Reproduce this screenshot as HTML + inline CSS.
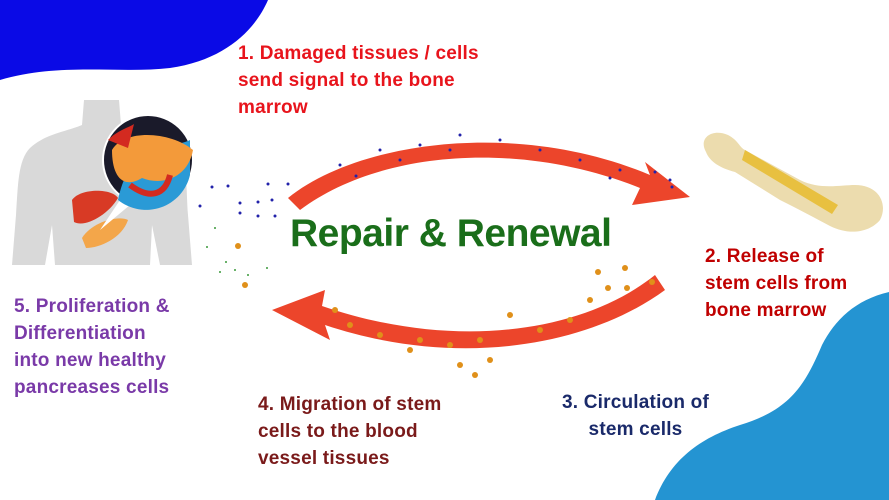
<!DOCTYPE html>
<html><head><meta charset="utf-8"><style>
body{margin:0;width:889px;height:500px;overflow:hidden;background:#fff;font-family:"Liberation Sans",sans-serif}
.t{position:absolute;font-weight:bold;font-size:19px;line-height:27px;letter-spacing:0.2px}
</style></head><body>
<svg width="889" height="500" style="position:absolute;left:0;top:0">
<path d="M0 0 L268 0 C255 30 225 60 170 68 C120 74 60 62 0 80 Z" fill="#0a0ae6"/>
<path d="M889 292 C855 300 835 320 822 345 C805 385 790 410 740 425 C700 438 670 460 655 500 L889 500 Z" fill="#2494d2"/>
<path d="M84 100 L119 100 L121 125 C140 132 165 134 178 150 C188 165 186 190 188 215 L192 265 L160 265 L152 225 L150 265 L55 265 L52 225 L45 265 L12 265 L16 215 C18 185 18 160 30 148 C45 134 65 132 82 125 Z" fill="#d9d9d9"/>
<path d="M72 200 C80 188 112 188 118 198 C108 215 85 228 74 222 Z" fill="#d83a25"/>
<path d="M82 238 C92 222 118 215 128 220 C122 238 100 248 86 248 Z" fill="#f3a64a"/>
<path d="M100 230 L120 200 L130 205 Z" fill="#fff"/>
<circle cx="148" cy="160" r="45" fill="#1a1a2a" stroke="#fff" stroke-width="2"/>
<path d="M118 200 A45 45 0 0 0 190 175 L190 140 C170 150 130 140 118 200 Z" fill="#2a9ad6"/>
<path d="M112 150 C125 128 172 132 193 150 C188 178 162 186 142 178 C122 190 112 175 112 150Z" fill="#f39a3a"/>
<path d="M130 185 C150 200 165 195 170 175" stroke="#d32a20" stroke-width="6" fill="none"/>
<path d="M108 140 C118 130 128 128 134 124 L128 148 Z" fill="#d32a20"/>
<path d="M706 152 C698 138 712 128 728 135 C738 140 740 148 745 150 L800 180 C820 190 840 185 855 185 C880 185 888 205 880 220 C870 232 850 236 830 226 C815 218 800 210 780 200 L735 172 C720 168 710 162 706 152 Z" fill="#ecdcae"/>
<path d="M745 150 L838 205 L832 214 L742 160 Z" fill="#e8c040"/>
<path d="M288 198 C360 140 520 120 650 175 L645 162 L690 197 L632 205 L640 188 C520 140 380 150 300 210 Z" fill="#ec452b"/>
<path d="M665 290 C590 345 460 370 325 325 L330 340 L272 310 L325 290 L322 306 C450 350 580 335 655 275 Z" fill="#ec452b"/>
<g fill="#2222aa">
<circle cx="212" cy="187" r="1.5"/><circle cx="228" cy="186" r="1.5"/><circle cx="240" cy="203" r="1.5"/><circle cx="258" cy="202" r="1.5"/><circle cx="272" cy="200" r="1.5"/><circle cx="268" cy="184" r="1.5"/><circle cx="288" cy="184" r="1.5"/><circle cx="200" cy="206" r="1.5"/><circle cx="258" cy="216" r="1.5"/><circle cx="275" cy="216" r="1.5"/><circle cx="240" cy="213" r="1.5"/>
<circle cx="340" cy="165" r="1.5"/><circle cx="380" cy="150" r="1.5"/><circle cx="420" cy="145" r="1.5"/><circle cx="460" cy="135" r="1.5"/><circle cx="500" cy="140" r="1.5"/><circle cx="540" cy="150" r="1.5"/><circle cx="580" cy="160" r="1.5"/><circle cx="620" cy="170" r="1.5"/><circle cx="655" cy="172" r="1.5"/><circle cx="670" cy="180" r="1.5"/><circle cx="672" cy="187" r="1.5"/><circle cx="356" cy="176" r="1.5"/><circle cx="400" cy="160" r="1.5"/><circle cx="450" cy="150" r="1.5"/><circle cx="610" cy="178" r="1.5"/>
</g>
<g fill="#e0901a">
<circle cx="238" cy="246" r="3"/><circle cx="245" cy="285" r="3"/><circle cx="598" cy="272" r="3"/><circle cx="625" cy="268" r="3"/><circle cx="608" cy="288" r="3"/><circle cx="627" cy="288" r="3"/><circle cx="652" cy="282" r="3"/><circle cx="590" cy="300" r="3"/><circle cx="570" cy="320" r="3"/><circle cx="540" cy="330" r="3"/><circle cx="510" cy="315" r="3"/><circle cx="480" cy="340" r="3"/><circle cx="450" cy="345" r="3"/><circle cx="420" cy="340" r="3"/><circle cx="380" cy="335" r="3"/><circle cx="350" cy="325" r="3"/><circle cx="460" cy="365" r="3"/><circle cx="475" cy="375" r="3"/><circle cx="490" cy="360" r="3"/><circle cx="410" cy="350" r="3"/><circle cx="335" cy="310" r="3"/>
</g>
<g fill="#3a9a3a"><circle cx="207" cy="247" r="1"/><circle cx="226" cy="262" r="1"/><circle cx="235" cy="270" r="1"/><circle cx="220" cy="272" r="1"/><circle cx="248" cy="275" r="1"/><circle cx="267" cy="268" r="1"/><circle cx="215" cy="228" r="1"/></g>
</svg>
<div style="position:absolute;left:290px;top:212px;font-size:39px;color:#1a6e1a;font-weight:bold;letter-spacing:-0.5px;white-space:nowrap">Repair &amp; Renewal</div>
<div class="t" style="left:238px;top:40px;color:#e8141c">1. Damaged tissues / cells<br>send signal to the bone<br>marrow</div>
<div class="t" style="left:705px;top:243px;color:#c00000">2. Release of<br>stem cells from<br>bone marrow</div>
<div class="t" style="left:548px;top:389px;color:#1a2a6a;text-align:center;width:175px">3. Circulation of<br>stem cells</div>
<div class="t" style="left:258px;top:391px;color:#7a1a1a">4. Migration of stem<br>cells to the blood<br>vessel tissues</div>
<div class="t" style="left:14px;top:293px;color:#7a3aa8">5. Proliferation &amp;<br>Differentiation<br>into new healthy<br>pancreases cells</div>
</body></html>
